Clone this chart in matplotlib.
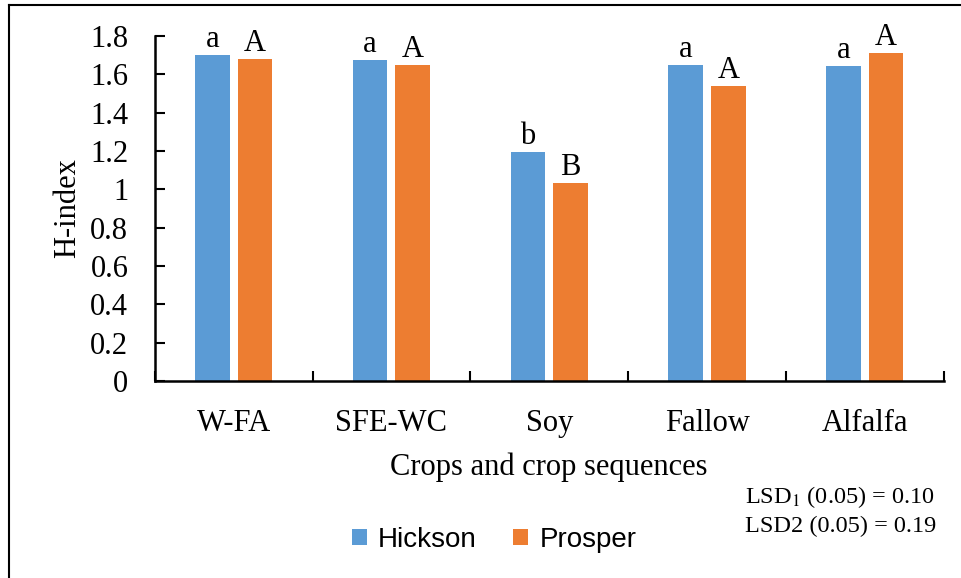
import numpy as np
import matplotlib.pyplot as plt
from matplotlib.lines import Line2D

# ==============================
# DATA
# ==============================
categories = ["W-FA", "SFE-WC", "Soy", "Fallow", "Alfalfa"]
hickson = [1.70, 1.675, 1.195, 1.65, 1.645]
prosper = [1.68, 1.65, 1.03, 1.54, 1.71]
letters_hickson = ["a", "a", "b", "a", "a"]
letters_prosper = ["A", "A", "B", "A", "A"]
yticks = [0, 0.2, 0.4, 0.6, 0.8, 1, 1.2, 1.4, 1.6, 1.8]
ytick_labels = ["0", "0.2", "0.4", "0.6", "0.8", "1", "1.2", "1.4", "1.6", "1.8"]

BLUE = "#5B9BD5"
ORANGE = "#ED7D31"
SERIF = "Liberation Serif"
FS = 22

# ==============================
# FIGURE
# ==============================
fig = plt.figure(figsize=(9.61, 5.78), dpi=100)
ax = fig.add_axes([0.161, 0.341, 0.821, 0.597])

x = np.arange(len(categories))
w = 0.22
off = 0.135
b1 = ax.bar(x - off, hickson, w, color=BLUE, label="Hickson")
b2 = ax.bar(x + off, prosper, w, color=ORANGE, label="Prosper")

for xi, v, t in zip(x, hickson, letters_hickson):
    ax.text(xi - off, v + 0.005, t, ha="center", va="bottom", family=SERIF, fontsize=FS)
for xi, v, t in zip(x, prosper, letters_prosper):
    ax.text(xi + off, v + 0.005, t, ha="center", va="bottom", family=SERIF, fontsize=FS)

ax.set_xlim(-0.5, len(categories) - 0.5)
ax.set_ylim(0, 1.8)
ax.set_yticks(yticks)
ax.set_yticklabels(ytick_labels, family=SERIF, fontsize=FS)
ax.set_xticks(x)
ax.set_xticklabels(categories, family=SERIF, fontsize=FS)
ax.set_xticks(np.arange(-0.5, len(categories)), minor=True)
ax.tick_params(axis="x", which="major", length=0, pad=20)
ax.tick_params(axis="x", which="minor", direction="in", length=7, width=1.5)
ax.tick_params(axis="y", direction="in", length=7, width=1.5, pad=19)

for s in ["top", "right"]:
    ax.spines[s].set_visible(False)
for s in ["left", "bottom"]:
    ax.spines[s].set_linewidth(1.8)

ax.set_ylabel("H-index", family=SERIF, fontsize=FS, labelpad=6)
ax.set_xlabel("Crops and crop sequences", family=SERIF, fontsize=FS, labelpad=11)

fig.legend(handles=[b1, b2], loc="center", bbox_to_anchor=(0.514, 0.066),
           ncol=2, frameon=False, prop={"family": "Liberation Sans", "size": 20},
           handlelength=0.55, handleheight=0.55, handletextpad=0.4, columnspacing=1.3)

fig.text(0.775, 0.14, "LSD$_1$ (0.05) = 0.10", family=SERIF, fontsize=17.5, va="center",
         math_fontfamily="stix")
fig.text(0.775, 0.09, "LSD2 (0.05) = 0.19", family=SERIF, fontsize=17.5, va="center")

# outer frame (left and top edges visible)
fig.add_artist(Line2D([0.009, 0.009], [0, 0.991], transform=fig.transFigure, color="black", lw=1.5))
fig.add_artist(Line2D([0.009, 1.0], [0.991, 0.991], transform=fig.transFigure, color="black", lw=1.5))

fig.savefig("out.png", dpi=100)
